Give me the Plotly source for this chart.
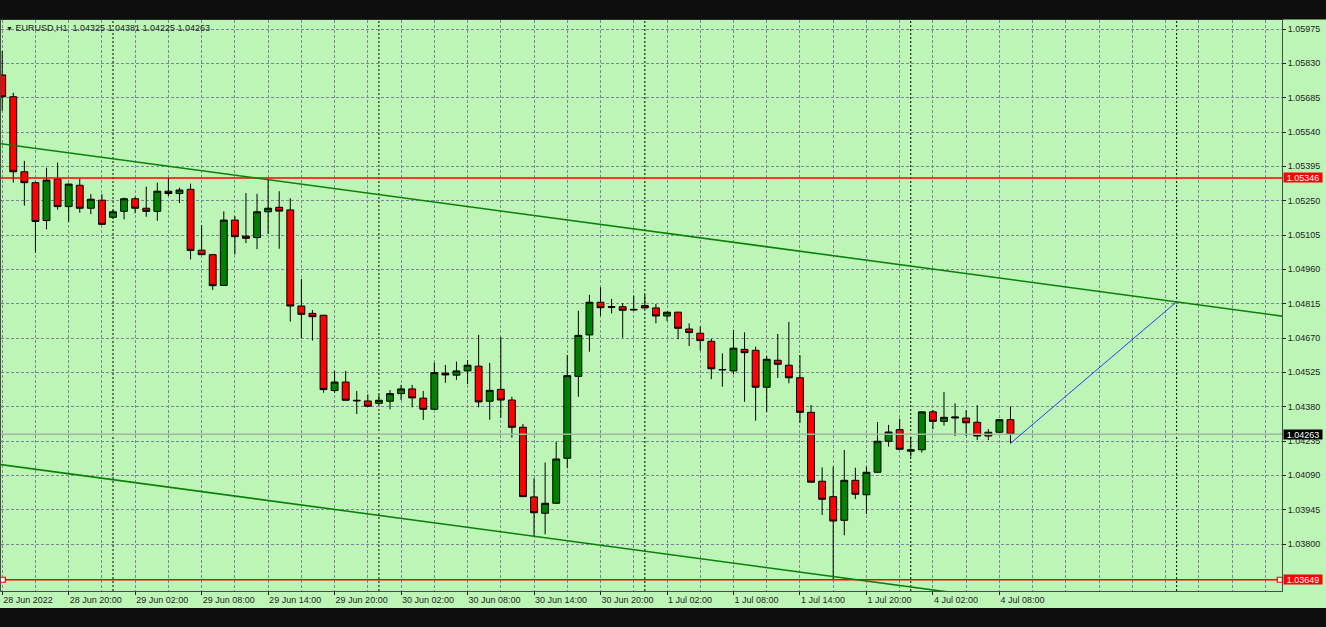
import plotly.graph_objects as go
import pandas as pd

# ---------------- data ----------------
symbol = "EURUSD,H1"
times = list(pd.date_range("2022-06-28 14:00", "2022-07-01 23:00", freq="h")) + \
        list(pd.date_range("2022-07-04 00:00", "2022-07-04 09:00", freq="h"))

opens = [1.05781, 1.05689, 1.05372, 1.05326, 1.05166, 1.05341, 1.05225, 1.05315, 1.05218, 1.05252,
         1.05180, 1.05205, 1.05258, 1.05218, 1.05205, 1.05290, 1.05280, 1.05298, 1.05041, 1.05022,
         1.04892, 1.05168, 1.05100, 1.05094, 1.05203, 1.05222, 1.05211, 1.04805, 1.04774, 1.04766,
         1.04448, 1.04484, 1.04407, 1.04404, 1.04394, 1.04403, 1.04435, 1.04455, 1.04416, 1.04369,
         1.04521, 1.04513, 1.04531, 1.04551, 1.04403, 1.04453, 1.04408, 1.04293, 1.03999, 1.03930,
         1.03972, 1.04162, 1.04508, 1.04683, 1.04821, 1.04803, 1.04802, 1.04791, 1.04807, 1.04797,
         1.04763, 1.04779, 1.04708, 1.04690, 1.04656, 1.04535, 1.04531, 1.04622, 1.04618, 1.04462,
         1.04576, 1.04555, 1.04502, 1.04356, 1.04065, 1.04000, 1.03900, 1.04069, 1.04008, 1.04103,
         1.04234, 1.04283, 1.04192, 1.04198, 1.04358, 1.04318, 1.04332, 1.04332, 1.04314, 1.04256,
         1.04272, 1.04325]
highs = [1.05882, 1.05706, 1.05418, 1.05330, 1.05389, 1.05411, 1.05322, 1.05342, 1.05278, 1.05277,
         1.05211, 1.05263, 1.05267, 1.05309, 1.05326, 1.05347, 1.05305, 1.05322, 1.05147, 1.05025,
         1.05205, 1.05185, 1.05282, 1.05279, 1.05342, 1.05290, 1.05260, 1.04919, 1.04788, 1.04768,
         1.04531, 1.04531, 1.04446, 1.04432, 1.04429, 1.04450, 1.04472, 1.04472, 1.04446, 1.04566,
         1.04556, 1.04570, 1.04577, 1.04683, 1.04565, 1.04674, 1.04422, 1.04307, 1.04078, 1.04144,
         1.04232, 1.04598, 1.04785, 1.04852, 1.04884, 1.04835, 1.04817, 1.04849, 1.04852, 1.04814,
         1.04781, 1.04781, 1.04732, 1.04718, 1.04667, 1.04605, 1.04704, 1.04694, 1.04633, 1.04594,
         1.04687, 1.04738, 1.04598, 1.04387, 1.04123, 1.04127, 1.04197, 1.04122, 1.04127, 1.04315,
         1.04303, 1.04329, 1.04253, 1.04360, 1.04366, 1.04442, 1.04394, 1.04365, 1.04386, 1.04285,
         1.04327, 1.04381]
lows = [1.05630, 1.05326, 1.05229, 1.05030, 1.05129, 1.05212, 1.05161, 1.05199, 1.05193, 1.05147,
        1.05175, 1.05171, 1.05197, 1.05182, 1.05165, 1.05270, 1.05240, 1.05002, 1.05020, 1.04873,
        1.04890, 1.05023, 1.05071, 1.05045, 1.05109, 1.05047, 1.04739, 1.04669, 1.04659, 1.04439,
        1.04439, 1.04405, 1.04349, 1.04380, 1.04387, 1.04369, 1.04408, 1.04377, 1.04324, 1.04367,
        1.04481, 1.04493, 1.04475, 1.04377, 1.04325, 1.04333, 1.04249, 1.03999, 1.03830, 1.03841,
        1.03970, 1.04120, 1.04422, 1.04612, 1.04764, 1.04774, 1.04671, 1.04785, 1.04795, 1.04732,
        1.04742, 1.04665, 1.04636, 1.04617, 1.04496, 1.04464, 1.04517, 1.04401, 1.04321, 1.04358,
        1.04501, 1.04479, 1.04312, 1.04059, 1.03923, 1.03649, 1.03837, 1.03990, 1.03927, 1.04100,
        1.04211, 1.04198, 1.04169, 1.04186, 1.04285, 1.04300, 1.04256, 1.04256, 1.04239, 1.04239,
        1.04268, 1.04225]
closes = [1.05689, 1.05372, 1.05326, 1.05162, 1.05337, 1.05225, 1.05320, 1.05218, 1.05256, 1.05150,
          1.05203, 1.05258, 1.05218, 1.05205, 1.05290, 1.05280, 1.05295, 1.05040, 1.05022, 1.04891,
          1.05168, 1.05098, 1.05091, 1.05203, 1.05218, 1.05206, 1.04805, 1.04770, 1.04760, 1.04452,
          1.04484, 1.04407, 1.04405, 1.04382, 1.04407, 1.04435, 1.04455, 1.04417, 1.04369, 1.04524,
          1.04514, 1.04531, 1.04555, 1.04400, 1.04449, 1.04408, 1.04293, 1.04000, 1.03932, 1.03972,
          1.04159, 1.04511, 1.04681, 1.04821, 1.04798, 1.04800, 1.04787, 1.04789, 1.04797, 1.04763,
          1.04779, 1.04711, 1.04693, 1.04659, 1.04540, 1.04537, 1.04627, 1.04608, 1.04462, 1.04580,
          1.04559, 1.04502, 1.04356, 1.04061, 1.03989, 1.03897, 1.04069, 1.04010, 1.04103, 1.04234,
          1.04273, 1.04200, 1.04198, 1.04358, 1.04318, 1.04335, 1.04336, 1.04312, 1.04256, 1.04272,
          1.04325, 1.04263]

# price scale labels
ytick_vals = [1.05975, 1.05830, 1.05685, 1.05540, 1.05395, 1.05250, 1.05105, 1.04960,
              1.04815, 1.04670, 1.04525, 1.04380, 1.04235, 1.04090, 1.03945, 1.03800]

# horizontal levels
resistance_level = 1.05346
support_level = 1.03649

# channel trendlines (bar index, price)
upper_line_x = [-0.2, 115.6]
upper_line_y = [1.05491, 1.04762]
lower_line_x = [-0.2, 115.6]
lower_line_y = [1.04136, 1.03407]
# projection line
proj_line_x = [91, 106]
proj_line_y = [1.04225, 1.04823]

future_day_start = 106  # 5 Jul 00:00 separator (beyond last bar)

# ---------------- derived ----------------
bars = list(range(len(times)))
tick_bars = bars[::6]
tick_text = [times[0].strftime("%-d %b %Y")] + [times[i].strftime("%-d %b %H:%M") for i in tick_bars[1:]]
separator_bars = [i for i, t in enumerate(times) if t.hour == 0] + [future_day_start]
last_close = closes[-1]

X_RANGE = [-0.108, 115.506]
Y_RANGE = [1.036015, 1.06013]

BG = "#bdf5b6"
GRID = "#7f8598"
FRAME = "#4a4a4a"
TXT = "#1e1e1e"
FONT = "Liberation Sans"

fig = go.Figure()

# day separators
for b in separator_bars:
    fig.add_shape(type="line", xref="x", yref="paper", x0=b, x1=b, y0=0, y1=1,
                  line=dict(color="#000000", width=1, dash="2px,2px"), layer="below")

# current price line (below candles)
fig.add_trace(go.Scatter(x=X_RANGE, y=[last_close, last_close], mode="lines",
                         line=dict(color="#a3b7a0", width=1.5), hoverinfo="skip", showlegend=False))

fig.add_trace(go.Candlestick(
    x=bars, open=opens, high=highs, low=lows, close=closes,
    increasing=dict(line=dict(color="#000000", width=1), fillcolor="#008000"),
    decreasing=dict(line=dict(color="#000000", width=1), fillcolor="#ff0000"),
    whiskerwidth=0, showlegend=False, hoverinfo="skip"))

# horizontal levels
for lvl in (resistance_level, support_level):
    fig.add_trace(go.Scatter(x=X_RANGE, y=[lvl, lvl], mode="lines",
                             line=dict(color="#ff0000", width=1.4), hoverinfo="skip", showlegend=False))

# selection handles of the support line
fig.add_trace(go.Scatter(x=[X_RANGE[0] + 0.17, X_RANGE[1] - 0.2], y=[support_level, support_level],
                         mode="markers", marker=dict(symbol="square", size=5, color="white",
                                                     line=dict(color="#ff0000", width=1.2)),
                         hoverinfo="skip", showlegend=False, cliponaxis=False))

# channel
for lx, ly in ((upper_line_x, upper_line_y), (lower_line_x, lower_line_y)):
    fig.add_trace(go.Scatter(x=lx, y=ly, mode="lines", line=dict(color="#0b800b", width=1.6),
                             hoverinfo="skip", showlegend=False))

fig.add_trace(go.Scatter(x=proj_line_x, y=proj_line_y, mode="lines",
                         line=dict(color="#2040ff", width=1), hoverinfo="skip", showlegend=False))

# black bands top / bottom
fig.add_shape(type="rect", xref="paper", yref="paper", x0=-0.05, x1=1.1, y0=1 + 0.6 / 571, y1=1.2,
              fillcolor="#0e0e0e", line=dict(width=0), layer="above")
fig.add_shape(type="rect", xref="paper", yref="paper", x0=-0.05, x1=1.1, y0=-0.3, y1=-17 / 571,
              fillcolor="#0e0e0e", line=dict(width=0), layer="above")

# price boxes on the scale
for val, col in ((resistance_level, "#ff0000"), (support_level, "#ff0000"), (last_close, "#000000")):
    fig.add_annotation(xref="paper", x=1, xanchor="left", xshift=1, yref="y", y=val, yanchor="middle",
                       text=f"{val:.5f}", showarrow=False, bgcolor=col, borderpad=0,
                       width=38, height=9, align="center",
                       font=dict(family=FONT, size=9, color="#ffffff"))

# header text
fig.add_annotation(xref="paper", yref="paper", x=0, y=(591 - 28) / 571, xanchor="left", yanchor="middle",
                   xshift=3, showarrow=False,
                   text="<span style='font-size:7px'>▼</span> " + symbol + "  " +
                        " ".join(f"{v:.5f}" for v in (opens[-1], highs[-1], lows[-1], closes[-1])),
                   font=dict(family=FONT, size=9, color=TXT))

fig.update_layout(
    width=1326, height=627, margin=dict(l=1, r=44, t=20, b=36),
    paper_bgcolor=BG, plot_bgcolor=BG, showlegend=False,
    boxgap=0.38, boxgroupgap=0,
    font=dict(family=FONT, size=9, color=TXT),
)
fig.update_xaxes(
    range=X_RANGE, tickmode="array", tickvals=tick_bars, ticktext=tick_text,
    ticks="outside", ticklen=3, tickcolor=TXT, ticklabelposition="outside right",
    showgrid=False, showline=True, linecolor=FRAME, linewidth=1, mirror=True, zeroline=False,
    rangeslider=dict(visible=False), fixedrange=True,
    minor=dict(tickmode="linear", tick0=0, dtick=3, showgrid=True, gridcolor=GRID,
               griddash="3px,2px", gridwidth=1, ticks=""),
)
fig.update_yaxes(
    side="right", range=Y_RANGE, tickmode="array", tickvals=ytick_vals,
    ticktext=[f"{v:.5f}" for v in ytick_vals],
    ticks="outside", ticklen=3, tickcolor=TXT,
    showgrid=True, gridcolor=GRID, griddash="3px,2px", gridwidth=1,
    showline=True, linecolor=FRAME, linewidth=1, mirror=True, zeroline=False, fixedrange=True,
)

fig.write_html("out.html", post_script="document.body.style.margin='0';",
               config={"displayModeBar": False})
